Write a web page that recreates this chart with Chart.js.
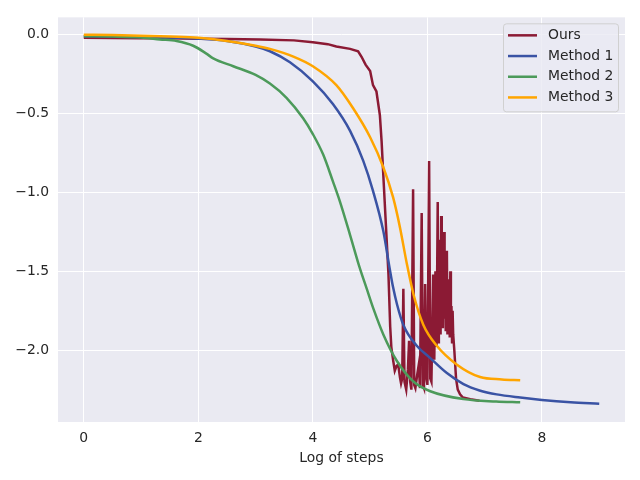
<!DOCTYPE html>
<html>
<head>
<meta charset="utf-8">
<script src="https://cdn.jsdelivr.net/npm/chart.js@4"></script>
<style>
  html, body { margin: 0; padding: 0; background: #fff; }
  #graph1 { display: block; }
</style>
</head>
<body>
<canvas id="graph1" width="640" height="480"></canvas>
<script>
// values
const oursX = [0, 0.5, 1.0, 1.5, 2.0, 2.5, 3.08, 3.67, 4.0, 4.26, 4.41, 4.65, 4.79, 4.85, 4.92, 5.0, 5.05, 5.11, 5.17, 5.20,
  5.23, 5.26, 5.29, 5.32, 5.35, 5.37,
  5.40, 5.43, 5.46, 5.49, 5.52, 5.54, 5.56, 5.58, 5.60, 5.63, 5.66, 5.68, 5.70, 5.72, 5.75, 5.77, 5.79, 5.82, 5.85, 5.87,
  5.90, 5.92, 5.94, 5.96, 5.98, 6.00, 6.03, 6.05, 6.07, 6.10, 6.12, 6.14, 6.16,
  6.18, 6.19, 6.20, 6.21, 6.22, 6.23, 6.24, 6.25, 6.26, 6.27, 6.28, 6.29, 6.30, 6.31, 6.32, 6.33, 6.34, 6.35, 6.36, 6.37,
  6.38, 6.39, 6.40, 6.41, 6.42, 6.43, 6.44, 6.45, 6.47, 6.50, 6.53, 6.57, 6.62, 6.75, 6.91];
const oursY = [-0.02, -0.021, -0.022, -0.023, -0.025, -0.027, -0.03, -0.036, -0.048, -0.06, -0.075, -0.09, -0.105, -0.14, -0.19, -0.23, -0.32, -0.36, -0.51, -0.675,
  -0.89, -1.10, -1.31, -1.52, -1.85, -1.98,
  -2.06, -2.13, -2.10, -2.09, -2.17, -2.21, -2.18, -1.61, -2.20, -2.25, -2.12, -1.94, -2.20, -2.25, -0.98, -2.22, -2.24, -2.16, -2.09, -2.24,
  -1.13, -2.22, -2.24, -1.58, -2.17, -2.22, -0.80, -2.18, -2.20, -1.52, -2.06, -1.50, -1.98,
  -1.06, -1.95, -1.30, -1.85, -1.40, -1.90, -1.15, -1.80, -1.45, -1.86, -1.35, -1.25, -1.80, -1.45, -1.88, -1.50, -1.37, -1.90, -1.55, -1.85,
  -1.60, -1.92, -1.50, -1.90, -1.72, -1.95, -1.75, -1.90, -2.00, -2.18, -2.25, -2.28, -2.30, -2.31, -2.32];

const m1X = [0, 0.5, 1.0, 1.5, 2.0, 2.5, 3.0, 3.25, 3.6, 4.0, 4.35, 4.65, 4.88, 5.05, 5.23, 5.34, 5.40, 5.47, 5.58, 5.81, 6.05, 6.34, 6.63, 6.91, 7.21, 7.62, 8.0, 8.5, 9.0];
const m1Y = [-0.01, -0.012, -0.015, -0.018, -0.025, -0.04, -0.075, -0.105, -0.175, -0.296, -0.44, -0.61, -0.80, -0.99, -1.245, -1.48, -1.60, -1.71, -1.84, -1.97, -2.05, -2.145, -2.215, -2.255, -2.28, -2.30, -2.315, -2.33, -2.34];

const m2X = [0, 0.5, 1.0, 1.33, 1.62, 1.91, 2.14, 2.26, 2.61, 3.0, 3.25, 3.54, 3.83, 4.0, 4.18, 4.35, 4.47, 4.65, 4.82, 4.94, 5.06, 5.23, 5.47, 5.76, 6.05, 6.63, 7.2, 7.62];
const m2Y = [-0.01, -0.012, -0.018, -0.03, -0.04, -0.07, -0.12, -0.15, -0.20, -0.255, -0.31, -0.40, -0.53, -0.63, -0.76, -0.93, -1.055, -1.27, -1.48, -1.61, -1.74, -1.90, -2.07, -2.20, -2.26, -2.31, -2.325, -2.33];

const m3X = [0, 0.5, 1.0, 1.5, 2.0, 2.5, 3.0, 3.25, 3.67, 4.0, 4.41, 4.70, 5.0, 5.23, 5.40, 5.52, 5.64, 5.76, 5.93, 6.16, 6.51, 6.92, 7.3, 7.62];
const m3Y = [0.0, -0.002, -0.006, -0.012, -0.02, -0.04, -0.07, -0.09, -0.14, -0.20, -0.32, -0.465, -0.65, -0.84, -1.03, -1.22, -1.45, -1.65, -1.84, -1.97, -2.09, -2.17, -2.185, -2.19];

const seriesNames = ['Ours', 'Method 1', 'Method 2', 'Method 3'];
const seriesColors = ['#8B1A34', '#3A53A4', '#4C9A5A', '#FFA500'];
const xTicks = [0, 2, 4, 6, 8];
const yTicks = [0.0, -0.5, -1.0, -1.5, -2.0];

const FONT = 'DejaVu Sans';
const TEXT = '#262626';

function pts(xs, ys) {
  return xs.map((x, i) => ({ x: x, y: ys[i] }));
}

const allX = [oursX, m1X, m2X, m3X];
const allY = [oursY, m1Y, m2Y, m3Y];

const datasets = seriesNames.map((name, i) => ({
  label: name,
  data: pts(allX[i], allY[i]),
  borderColor: seriesColors[i],
  backgroundColor: seriesColors[i],
  borderWidth: 2.5,
  pointRadius: 0,
  fill: false,
  tension: i === 0 ? 0 : 0.4,
  cubicInterpolationMode: i === 0 ? 'default' : 'monotone',
  order: 3 - i
}));

// grey plot background
const areaBg = {
  id: 'areaBg',
  beforeDraw(chart) {
    const a = chart.chartArea, ctx = chart.ctx;
    ctx.save();
    ctx.fillStyle = '#EAEAF2';
    ctx.fillRect(a.left, a.top, a.right - a.left, a.bottom - a.top);
    ctx.restore();
  }
};

// legend box in the upper right corner, like matplotlib's
const boxLegend = {
  id: 'boxLegend',
  afterDraw(chart) {
    const a = chart.chartArea, ctx = chart.ctx;
    const w = 115, h = 88;
    const x0 = a.right - 7 - w, y0 = a.top + 6;
    ctx.save();
    ctx.beginPath();
    ctx.roundRect(x0 + 0.5, y0 + 0.5, w, h, 3);
    ctx.fillStyle = 'rgba(234,234,242,0.8)';
    ctx.fill();
    ctx.strokeStyle = '#d0d0d0';
    ctx.lineWidth = 1;
    ctx.stroke();
    ctx.font = '13.9px "' + FONT + '"';
    ctx.textBaseline = 'middle';
    chart.data.datasets.forEach((ds, i) => {
      const yy = y0 + 12 + i * 20.7;
      ctx.beginPath();
      ctx.moveTo(x0 + 5, yy);
      ctx.lineTo(x0 + 34, yy);
      ctx.strokeStyle = ds.borderColor;
      ctx.lineWidth = 2.5;
      ctx.stroke();
      ctx.fillStyle = TEXT;
      ctx.fillText(ds.label, x0 + 45, yy);
    });
    ctx.restore();
  }
};

const fmtY = v => (v < 0 ? '\u2212' : '') + Math.abs(v).toFixed(1);

const config = {
  type: 'line',
  data: { datasets: datasets },
  options: {
    responsive: false,
    animation: false,
    devicePixelRatio: 1,
    layout: { padding: { left: 0, right: 15, top: 16, bottom: 0 } },
    plugins: {
      legend: { display: false },
      tooltip: { enabled: false }
    },
    scales: {
      x: {
        type: 'linear',
        min: -0.45,
        max: 9.45,
        afterBuildTicks: s => { s.ticks = xTicks.map(v => ({ value: v })); },
        afterFit: s => { s.height = 58; },
        grid: { color: '#ffffff', lineWidth: 1, drawTicks: false },
        border: { display: false },
        ticks: {
          color: TEXT,
          font: { family: FONT, size: 13.9 },
          padding: 8,
          maxRotation: 0,
          callback: v => String(v)
        },
        title: {
          display: true,
          text: 'Log of steps',
          color: TEXT,
          font: { family: FONT, size: 13.9 },
          padding: { top: 4, bottom: 13 }
        }
      },
      y: {
        type: 'linear',
        min: -2.455,
        max: 0.11,
        afterBuildTicks: s => { s.ticks = yTicks.map(v => ({ value: v })); },
        afterFit: s => { s.width = 58; },
        grid: { color: '#ffffff', lineWidth: 1, drawTicks: false },
        border: { display: false },
        ticks: {
          color: TEXT,
          font: { family: FONT, size: 13.9 },
          padding: 9,
          callback: v => fmtY(v)
        }
      }
    }
  },
  plugins: [areaBg, boxLegend]
};

new Chart(document.querySelector('#graph1'), config);
</script>
</body>
</html>
